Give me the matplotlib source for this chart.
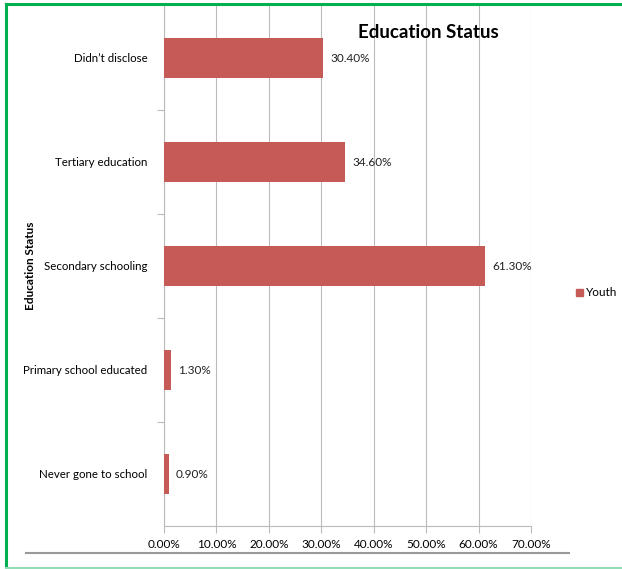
import matplotlib.pyplot as plt
from matplotlib.lines import Line2D
from matplotlib.patches import Patch

plt.rcParams['font.family'] = ['Lato', 'DejaVu Sans']

categories = ["Never gone to school", "Primary school educated", "Secondary schooling",
              "Tertiary education", "Didn\u2019t disclose"]
youth = [0.90, 1.30, 61.30, 34.60, 30.40]
xticks = [0, 10, 20, 30, 40, 50, 60, 70]

W, H = 622, 569
fig = plt.figure(figsize=(W / 100, H / 100), dpi=100)
ax = fig.add_axes([164 / W, 1 - 526 / H, (531 - 164) / W, (526 - 6) / H])

bar_color = '#C55A57'
ypos = list(range(len(categories)))
ax.barh(ypos, youth, height=0.39, color=bar_color, zorder=3)
for y, v in zip(ypos, youth):
    ax.text(v + 1.3, y, f"{v:.2f}%", va='center', ha='left', fontsize=8.5, color='#222222')

ax.set_xlim(0, 70)
ax.set_ylim(-0.5, len(categories) - 0.5)
ax.set_xticks(xticks)
ax.set_xticklabels([f"{t:.2f}%" for t in xticks], fontsize=8.5)
ax.set_yticks(ypos)
ax.set_yticklabels(categories, fontsize=8.3)
ax.set_yticks([i + 0.5 for i in range(len(categories) - 1)], minor=True)
ax.tick_params(axis='y', which='major', length=0, pad=12)
ax.tick_params(axis='y', which='minor', length=5, color='#BBBBBB', width=0.8)
ax.tick_params(axis='x', length=5, color='#BBBBBB', width=0.8, pad=4)
ax.grid(axis='x', color='#BBBBBB', linewidth=0.8, zorder=0)
for s in ['top', 'right']:
    ax.spines[s].set_visible(False)
ax.spines['left'].set_color('#BBBBBB')
ax.spines['bottom'].set_color('#BBBBBB')

ax.set_ylabel("Education Status", fontsize=8.5, fontweight='bold', labelpad=0)
ax.yaxis.set_label_coords(-0.35, 0.5)

fig.text(428 / W, 1 - 32 / H, "Education Status", ha='center', va='center',
         fontsize=13.5, fontweight='bold')

fig.legend(handles=[Patch(color=bar_color, label='Youth')], loc='center left',
           bbox_to_anchor=(565 / W, 1 - 293 / H), frameon=False, fontsize=8.5,
           handlelength=0.6, handleheight=0.6, handletextpad=0.3)

# bottom rule and green frame
fig.add_artist(Line2D([26 / W, 569 / W], [1 - 553 / H] * 2, color='#999999', lw=1.5))
fig.add_artist(Line2D([6 / W, 6 / W], [1 - 568 / H, 1 - 4 / H], color='#00B050', lw=2.2))
fig.add_artist(Line2D([6 / W, 1], [1 - 4 / H] * 2, color='#00B050', lw=2.2))
fig.add_artist(Line2D([6 / W, 1], [1 - 568 / H] * 2, color='#92DDB5', lw=1.5))

fig.savefig("out.png", dpi=100)
